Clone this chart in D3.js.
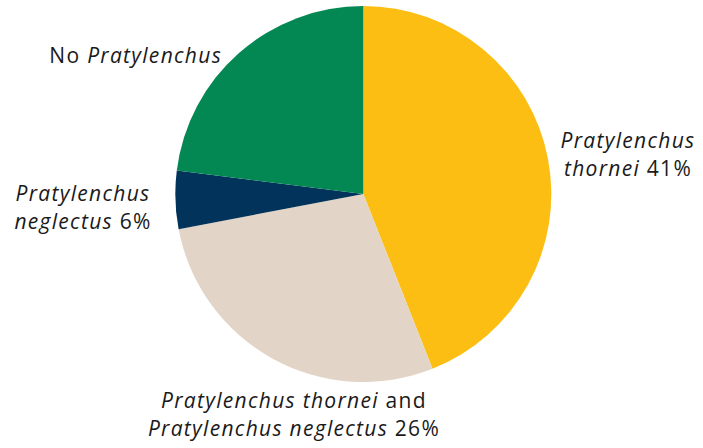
<!DOCTYPE html>
<html>
<head>
<meta charset="utf-8">
<script src="https://cdn.jsdelivr.net/npm/d3@7"></script>
<style>
  body { margin: 0; background: #fff; }
  svg text { font-family: "Open Sans", Lato, sans-serif; font-size: 21px; letter-spacing: 1.3px; fill: #1a1a1a; }
</style>
</head>
<body>
<div id="chart"></div>
<script>
// slice shares as drawn (clockwise from 12 o'clock)
const categories = ["thornei", "both", "neglectus", "none"];
const shares = [44, 28, 5, 23];
const colors = ["#fdbe14", "#e2d5c7", "#02335a", "#048853"];

// label text: [text, italic] runs per line
const labelLines = [
  [[["Pratylenchus", true]], [["thornei", true], [" 41%", false]]],
  [[["Pratylenchus thornei", true], [" and", false]], [["Pratylenchus neglectus", true], [" 26%", false]]],
  [[["Pratylenchus", true]], [["neglectus", true], [" 6%", false]]],
  [[["No ", false], ["Pratylenchus", true]]]
];

const width = 703, height = 448;
const cx = 363.3, cy = 194, radius = 188;

const svg = d3.select("#chart").append("svg")
  .attr("width", width)
  .attr("height", height);

const g = svg.append("g").attr("transform", `translate(${cx}, ${cy})`);

const pie = d3.pie().sort(null).value(d => d);
const arc = d3.arc().innerRadius(0).outerRadius(radius);
const color = d3.scaleOrdinal().domain(categories).range(colors);

g.selectAll("path")
  .data(pie(shares))
  .enter().append("path")
  .attr("d", arc)
  .attr("fill", (d, i) => color(categories[i]));

// label anchors (centre x, first baseline y, anchor)
const labelPos = [
  [628, 148, "middle"],
  [294, 408, "middle"],
  [83, 201, "middle"],
  [222, 63, "end"]
];
const lineH = 28;

labelLines.forEach((lines, i) => {
  const [x, y, anchor] = labelPos[i];
  const t = svg.append("text")
    .attr("text-anchor", anchor);
  lines.forEach((runs, j) => {
    runs.forEach((r, k) => {
      const ts = t.append("tspan")
        .text(r[0])
        .attr("font-style", r[1] ? "italic" : "normal");
      if (k === 0) ts.attr("x", x).attr("y", y + j * lineH);
    });
  });
});
</script>
</body>
</html>
